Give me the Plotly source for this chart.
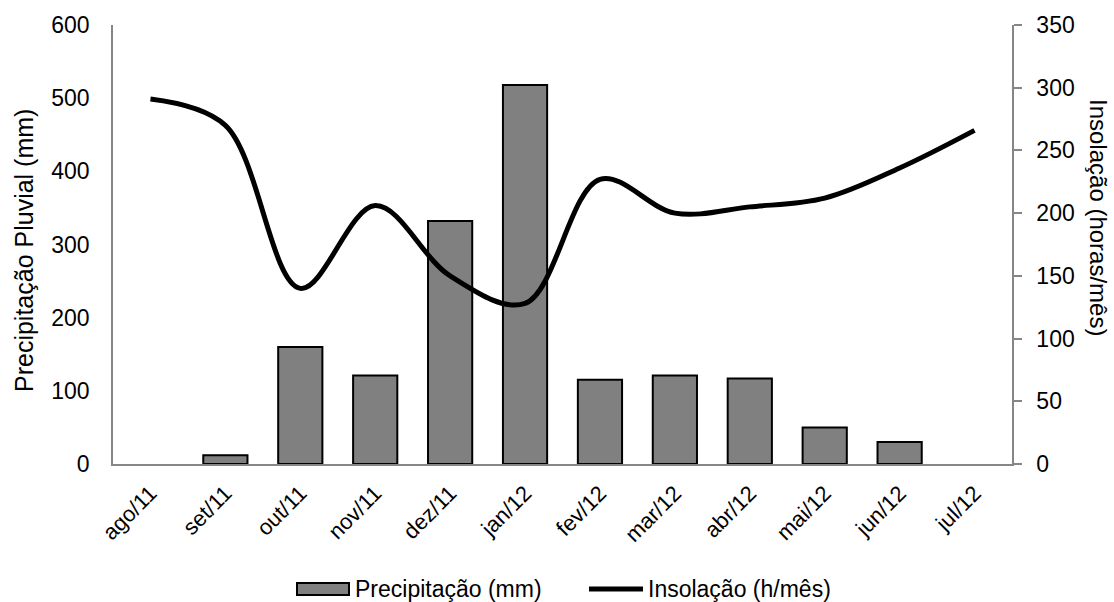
import plotly.graph_objects as go

meses = ["ago/11", "set/11", "out/11", "nov/11", "dez/11", "jan/12",
         "fev/12", "mar/12", "abr/12", "mai/12", "jun/12", "jul/12"]
precipitacao = [0, 12, 160, 121, 332, 518, 115, 121, 117, 50, 30, 0]
insolacao = [291, 270, 140, 206, 150, 128, 227, 200, 205, 212, 236, 266]

W, H = 1114, 602
L, R, T, B = 113, 1012, 25, 464

def px(x):
    return (x - L) / (R - L)

def py(y):
    return (B - y) / (B - T)

FONT = "Liberation Sans, Arial, sans-serif"

fig = go.Figure()
fig.add_trace(go.Bar(
    x=meses, y=precipitacao, name="Precipitação (mm)",
    marker=dict(color="#808080",
                line=dict(color="black", width=[0 if v == 0 else 2 for v in precipitacao])),
    width=0.59, yaxis="y", showlegend=False,
))
fig.add_trace(go.Scatter(
    x=meses, y=insolacao, name="Insolação (h/mês)", mode="lines",
    line=dict(color="black", width=5, shape="spline", smoothing=1.0),
    yaxis="y2", showlegend=False,
))

# manual legend
fig.add_shape(type="rect", xref="paper", yref="paper",
              x0=px(297), x1=px(349), y0=py(595), y1=py(583),
              fillcolor="#808080", line=dict(color="black", width=2))
fig.add_shape(type="line", xref="paper", yref="paper",
              x0=px(589), x1=px(643), y0=py(589), y1=py(589),
              line=dict(color="black", width=5))
fig.add_annotation(text="Precipitação (mm)", xref="paper", yref="paper",
                   x=px(353), y=py(589), xanchor="left", yanchor="middle",
                   showarrow=False, font=dict(family=FONT, size=23, color="black"))
fig.add_annotation(text="Insolação (h/mês)", xref="paper", yref="paper",
                   x=px(646), y=py(589), xanchor="left", yanchor="middle",
                   showarrow=False, font=dict(family=FONT, size=23, color="black"))

# axis titles
fig.add_annotation(text="Precipitação Pluvial (mm)", xref="paper", yref="paper",
                   x=px(24), y=py(251), xanchor="center", yanchor="middle",
                   textangle=-90, showarrow=False,
                   font=dict(family=FONT, size=25, color="black"))
fig.add_annotation(text="Insolação (horas/mês)", xref="paper", yref="paper",
                   x=px(1099), y=py(217), xanchor="center", yanchor="middle",
                   textangle=90, showarrow=False,
                   font=dict(family=FONT, size=24, color="black"))

fig.update_layout(
    width=W, height=H,
    margin=dict(l=L, r=W - R, t=T, b=H - B),
    paper_bgcolor="white", plot_bgcolor="white",
    font=dict(family=FONT, size=23, color="black"),
    showlegend=False,
    xaxis=dict(showline=True, linecolor="#868686", linewidth=1.5,
               tickangle=-45, ticks="", showgrid=False,
               tickfont=dict(size=22), ticklabelstandoff=6,
               range=[-0.5, 11.5], automargin=False),
    yaxis=dict(range=[0, 600], dtick=100, showline=True, linecolor="#868686",
               linewidth=1.5, ticks="", showgrid=False, zeroline=False,
               tickfont=dict(size=23), ticklabelstandoff=17, automargin=False),
    yaxis2=dict(range=[0, 350], dtick=50, overlaying="y", side="right",
                showline=True, linecolor="#868686", linewidth=1.5,
                ticks="outside", ticklen=8, tickcolor="#868686", tickwidth=1.5,
                showgrid=False, zeroline=False, ticklabelstandoff=10,
                tickfont=dict(size=23), automargin=False),
)

fig.write_html("out.html", config={"displayModeBar": False},
               post_script="document.body.style.margin='0';document.body.style.overflow='hidden';")
